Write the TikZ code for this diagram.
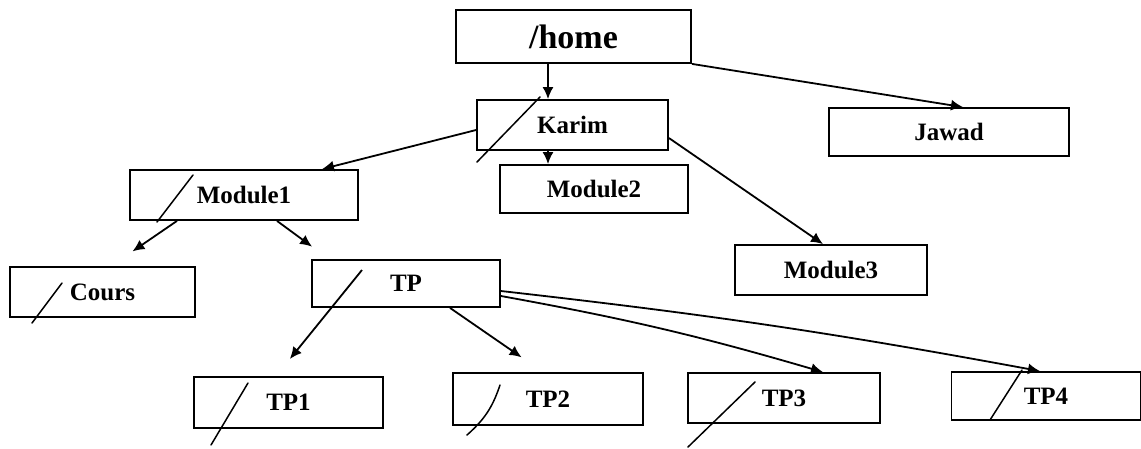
\documentclass[tikz,border=0pt]{standalone}
\usepackage{fontspec}
\setmainfont{Liberation Serif}
\usetikzlibrary{arrows.meta}

\begin{document}
\begin{tikzpicture}[x=1pt, y=-1pt,
        folder/.style={rectangle, draw, line width=1.8pt, inner sep=0pt, minimum width=190pt, minimum height=49pt, font=\fontsize{25}{28}\selectfont\bfseries},
        link/.style={draw, line width=1.8pt, -{Latex[length=12pt,width=11pt]}},
        strikeline/.style={draw, line width=1.5pt, line cap=round}
    ]
        \useasboundingbox (0,0) rectangle (1141,448);

        % Directories
        \node[folder, minimum width=235pt, minimum height=53pt, font=\fontsize{34}{38}\selectfont\bfseries] (home) at (573.5,36.5) {/home};
        \node[folder, minimum width=191pt, minimum height=50pt] (karim) at (572.5,125) {Karim};
        \node[folder, minimum width=240pt, minimum height=48pt] (jawad) at (949,132) {Jawad};
        \node[folder, minimum width=188pt, minimum height=48pt] (module2) at (594,189) {Module2};
        \node[folder, minimum width=228pt, minimum height=50pt] (module1) at (244,195) {Module1};
        \node[folder, minimum width=192pt, minimum height=50pt] (module3) at (831,270) {Module3};
        \node[folder, minimum width=185pt, minimum height=50pt] (cours) at (102.5,292) {Cours};
        \node[folder, minimum width=188pt, minimum height=47pt] (tp) at (406,283.5) {TP};
        \node[folder, minimum width=189pt, minimum height=51pt] (tp1) at (288.5,402.5) {TP1};
        \node[folder, minimum width=190pt, minimum height=52pt] (tp2) at (548,399) {TP2};
        \node[folder, minimum width=192pt, minimum height=50pt] (tp3) at (784,398) {TP3};
        \node[folder, minimum width=189pt, minimum height=48pt] (tp4) at (1046,396) {TP4};

        % Links
        \draw[link] ([shift={(-25.5,0)}]home.south) -- ([shift={(-24.5,0)}]karim.north);
        \draw[link] (home.south east) -- ([shift={(14,0)}]jawad.north);
        \draw[link] ([shift={(-24.5,0)}]karim.south) -- ([shift={(-46,0)}]module2.north);
        \draw[link] ([shift={(0,5)}]karim.west) -- ([shift={(78,0)}]module1.north);
        \draw[link] ([shift={(0,13)}]karim.east) -- ([shift={(-8,0)}]module3.north);
        \draw[link, shorten >=26pt] ([shift={(-67,0)}]module1.south) -- ([shift={(8.5,0)}]cours.north);
        \draw[link, shorten >=21pt] ([shift={(33,0)}]module1.south) -- ([shift={(-77,0)}]tp.north);
        \draw[link, shorten >=22pt] ([shift={(-44,-13.5)}]tp.center) -- ([shift={(-12.5,0)}]tp1.north);
        \draw[link, shorten >=26pt] ([shift={(44,0)}]tp.south) -- ([shift={(-5,0)}]tp2.north);
        \draw[link] ([shift={(0,12.5)}]tp.east) to[bend left=3] ([shift={(39,0)}]tp3.north);
        \draw[link] ([shift={(0,7.5)}]tp.east) to[bend left=2] ([shift={(-6,0)}]tp4.north);

        % Strokes across the boxes
        \draw[strikeline] ([shift={(-95.5,37)}]karim.center) -- ([shift={(-32.5,-28)}]karim.center);
        \draw[strikeline] ([shift={(-87,27)}]module1.center) -- ([shift={(-51,-20)}]module1.center);
        \draw[strikeline] ([shift={(-70.5,31)}]cours.center) -- ([shift={(-40.5,-9)}]cours.center);
        \draw[strikeline] ([shift={(-77.5,42.5)}]tp1.center) -- ([shift={(-40.5,-19.5)}]tp1.center);
        \draw[strikeline] ([shift={(-81,36)}]tp2.center) to[bend right=15] ([shift={(-48,-14)}]tp2.center);
        \draw[strikeline] ([shift={(-96,49)}]tp3.center) -- ([shift={(-29,-16)}]tp3.center);
        \draw[strikeline] ([shift={(-56,24)}]tp4.center) -- ([shift={(-24,-26)}]tp4.center);
    \end{tikzpicture}
\end{document}
